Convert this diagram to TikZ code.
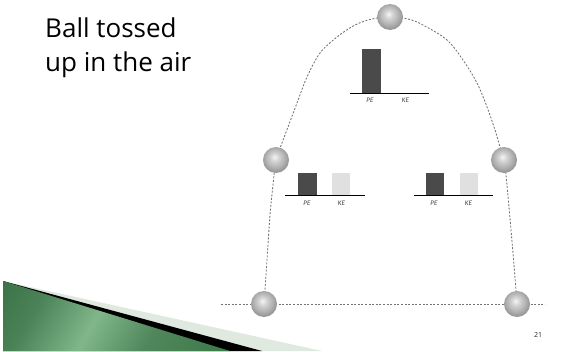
\documentclass[tikz,border=0pt]{standalone}
\usepackage{fontspec}
\setmainfont{Open Sans}
\newfontfamily\barfont{Carlito}
\pgfdeclareradialshading{myball}{\pgfqpoint{-3bp}{6bp}}{color(0bp)=(white!92!gray); color(8bp)=(gray!35); color(18bp)=(gray!60); color(25bp)=(gray!80); color(50bp)=(gray!80)}
\definecolor{darkbar}{HTML}{4A4A4A}
\definecolor{lightbar}{HTML}{E0E0E0}
\definecolor{gdark}{RGB}{40,95,52}
\definecolor{gmid}{RGB}{128,182,138}
\definecolor{gright}{RGB}{48,112,62}
\definecolor{glight}{HTML}{DFE9DF}
\pgfdeclarehorizontalshading{wedgeg}{100bp}{color(0bp)=(gdark); color(28bp)=(gdark!60!gmid); color(45bp)=(gmid); color(62bp)=(gdark!55!gmid); color(100bp)=(gright)}
\tikzset{
  ballnode/.style={circle, minimum size=26pt, inner sep=0pt, shading=myball},
  traj/.style={draw=black!55, line width=0.85pt, dash pattern=on 2pt off 1.6pt},
  barlabel/.style={font=\barfont\itshape\fontsize{7}{8}\selectfont, text=black!75, inner sep=0pt},
  baseln/.style={line width=1.4pt, black},
}
\begin{document}
\begin{tikzpicture}[x=1pt,y=-1pt]
\useasboundingbox (0,0) rectangle (562,351);
% corner wedge
\fill[glight] (3,281) -- (322,351) -- (3,351) -- cycle;
\fill[black] (3,281) -- (262,351) -- (3,351) -- cycle;
\shade[shading=wedgeg, shading angle=-30] (3,281) -- (230,351) -- (3,351) -- cycle;
% title
\node[anchor=base west, inner sep=0pt, font=\fontsize{26}{30}\selectfont] (t1) at (45,37) {Ball tossed};
\node[anchor=base west, inner sep=0pt, font=\fontsize{26}{30}\selectfont] (t2) at (45,71) {up in the air};
% trajectory
\coordinate (hl) at (221,304);
\coordinate (hr) at (545,304);
\draw[traj] (hl) -- (hr);
\draw[traj] plot[smooth, tension=0.55] coordinates {(264,304) (267,260) (270,215) (273,185) (276,160) (282,143) (288,127) (297,103) (307,77) (320,53) (337,37) (355,25) (372,19) (390,17) (408,19) (423,25) (447,40) (463,60) (477,83) (487,107) (495,130) (500,147) (504,160) (507,185) (511,230) (514,265) (517,304)};
% balls
\node[ballnode] (btop) at (390,17) {};
\node[ballnode] (bleft) at (276,160) {};
\node[ballnode] (bright) at (504,160) {};
\node[ballnode] (bbl) at (264,304) {};
\node[ballnode] (bbr) at (517,304) {};
% top chart
\fill[darkbar] (362.3,49) rectangle (380.7,93.3);
\draw[baseln] (350,93.3) -- (429,93.3);
\node[barlabel] (tpe) at (370,100) {PE};
\node[barlabel] (tke) at (405.5,100) {KE};
% middle-left chart
\fill[darkbar] (298.3,173.3) rectangle (316.7,195.7);
\fill[lightbar] (332.3,173.3) rectangle (350,195.7);
\draw[baseln] (285,195.7) -- (365,195.7);
\node[barlabel] (lpe) at (307,203) {PE};
\node[barlabel] (lke) at (341.5,203) {KE};
% middle-right chart
\fill[darkbar] (426,173.3) rectangle (444,195.7);
\fill[lightbar] (460,173.3) rectangle (477.7,195.7);
\draw[baseln] (414,195.7) -- (492.7,195.7);
\node[barlabel] (rpe) at (434,203) {PE};
\node[barlabel] (rke) at (468.5,203) {KE};
% page number
\node[inner sep=0pt, font=\fontsize{7}{8}\selectfont, text=black!85] (pg) at (538,335) {21};
\end{tikzpicture}
\end{document}
